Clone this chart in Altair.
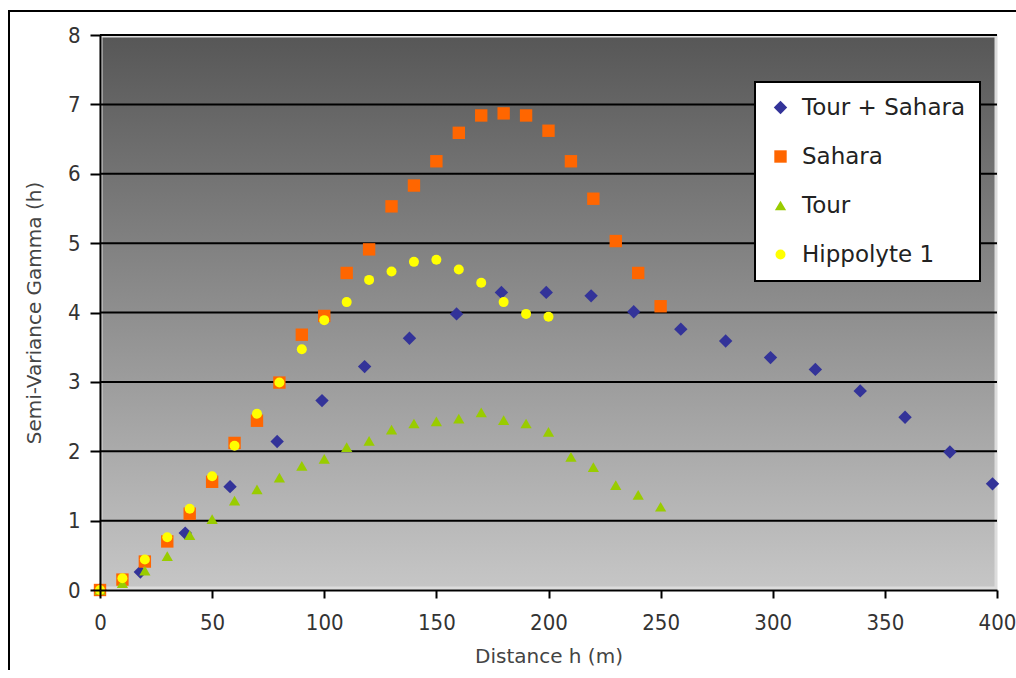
import altair as alt
import pandas as pd

# ---- data ----
series_names = ["Tour + Sahara", "Sahara", "Tour", "Hippolyte 1"]
series_colors = ["#333399", "#FF6600", "#99CC00", "#FFFF00"]
series_shapes = ["diamond", "square", "triangle-up", "circle"]

ts_x = [0, 18, 38, 58, 79, 99, 118, 138, 159, 179, 199, 219, 238, 259, 279, 299, 319, 339, 359, 379, 398]
ts_y = [0.0, 0.26, 0.82, 1.49, 2.14, 2.73, 3.22, 3.63, 3.98, 4.29, 4.29, 4.24, 4.01, 3.76, 3.59, 3.35,
        3.18, 2.87, 2.49, 1.99, 1.53]

sahara_x = [0, 10, 20, 30, 40, 50, 60, 70, 80, 90, 100, 110, 120, 130, 140, 150, 160, 170, 180, 190,
            200, 210, 220, 230, 240, 250]
sahara_y = [0.0, 0.15, 0.41, 0.70, 1.10, 1.56, 2.12, 2.44, 2.99, 3.68, 3.95, 4.57, 4.91, 5.53, 5.83,
            6.18, 6.59, 6.84, 6.87, 6.84, 6.62, 6.18, 5.64, 5.03, 4.57, 4.09]

tour_x = [0, 10, 20, 30, 40, 50, 60, 70, 80, 90, 100, 110, 120, 130, 140, 150, 160, 170, 180, 190,
          200, 210, 220, 230, 240, 250]
tour_y = [0.0, 0.10, 0.28, 0.49, 0.79, 1.02, 1.29, 1.45, 1.62, 1.79, 1.89, 2.06, 2.15, 2.31, 2.40,
          2.43, 2.47, 2.56, 2.45, 2.40, 2.28, 1.92, 1.77, 1.51, 1.37, 1.20]

hip_x = [0, 10, 20, 30, 40, 50, 60, 70, 80, 90, 100, 110, 120, 130, 140, 150, 160, 170, 180, 190, 200]
hip_y = [0.0, 0.17, 0.44, 0.76, 1.17, 1.64, 2.08, 2.54, 2.99, 3.47, 3.89, 4.15, 4.47, 4.59, 4.73,
         4.76, 4.62, 4.43, 4.15, 3.98, 3.94]

x_ticks = [0, 50, 100, 150, 200, 250, 300, 350, 400]
y_ticks = [0, 1, 2, 3, 4, 5, 6, 7, 8]
grid_lines = [1, 2, 3, 4, 5, 6, 7, 8]

rows = []
for i, (name, xs, ys) in enumerate(zip(series_names, [ts_x, sahara_x, tour_x, hip_x],
                                        [ts_y, sahara_y, tour_y, hip_y])):
    for xv, yv in zip(xs, ys):
        rows.append({"series": name, "h": xv, "gamma": yv, "ord": i})
df = pd.DataFrame(rows)

W, H = 897, 555
FONT = "DejaVu Sans Condensed, DejaVu Sans"

xscale = alt.Scale(domain=[0, 400], nice=False, zero=False)
yscale = alt.Scale(domain=[0, 8], nice=False)

xaxis = alt.Axis(values=x_ticks, title="Distance h (m)", grid=False, domainColor="black",
                 domainWidth=2, tickColor="black", tickWidth=2, tickSize=8,
                 labelFont=FONT, labelFontSize=22, labelColor="#333333", labelPadding=14,
                 labelFlush=False, titleFont="DejaVu Sans", titleFontSize=20,
                 titleFontWeight="normal", titleColor="#444444", titleX=W / 2, titleY=66,
                 titleBaseline="middle", titleAlign="center", zindex=1)
yaxis = alt.Axis(values=y_ticks, title="Semi-Variance Gamma (h)", grid=False, domainColor="black",
                 domainWidth=2, tickColor="black", tickWidth=2, tickSize=10,
                 labelFont=FONT, labelFontSize=22, labelColor="#333333", labelPadding=10,
                 titleFont="DejaVu Sans", titleFontSize=20, titleFontWeight="normal",
                 titleColor="#444444", titleX=-66, titleY=H / 2, titleAngle=-90,
                 titleBaseline="middle", titleAlign="center", zindex=1)

one = pd.DataFrame({"a": [0]})

# outer picture frame (only its left and top edges fall inside the picture)
frame_left = alt.Chart(one).mark_rule(color="black", strokeWidth=2).encode(
    x=alt.value(-91), y=alt.value(-25), y2=alt.value(H + 100))
frame_top = alt.Chart(one).mark_rule(color="black", strokeWidth=2).encode(
    x=alt.value(-92), x2=alt.value(W + 19), y=alt.value(-24))

bg = alt.Chart(one).mark_rect(
    color=alt.LinearGradient(
        gradient="linear", x1=0, y1=0, x2=0, y2=1,
        stops=[alt.GradientStop(color="#575757", offset=0),
               alt.GradientStop(color="#c6c6c6", offset=1)]),
    stroke="#dcdcdc", strokeWidth=3,
).encode(x=alt.value(1), x2=alt.value(W - 1), y=alt.value(1), y2=alt.value(H - 2))

grid = alt.Chart(pd.DataFrame({"gamma": grid_lines})).mark_rule(color="black", strokeWidth=2).encode(
    y=alt.Y("gamma:Q", scale=yscale, axis=yaxis))

legend = alt.Legend(title=None)
pts = alt.Chart(df).mark_point(filled=True, opacity=1, strokeWidth=0).encode(
    x=alt.X("h:Q", scale=xscale, axis=xaxis),
    y=alt.Y("gamma:Q", scale=yscale, axis=yaxis),
    color=alt.Color("series:N", scale=alt.Scale(domain=series_names, range=series_colors),
                    legend=legend),
    shape=alt.Shape("series:N", scale=alt.Scale(domain=series_names, range=series_shapes),
                    legend=legend),
    size=alt.Size("series:N", scale=alt.Scale(domain=series_names, range=[180, 100, 200, 140]),
                  legend=None),
    order=alt.Order("ord:Q"),
)

chart = alt.layer(frame_left, frame_top, bg, grid, pts).properties(
    width=W, height=H,
    padding={"left": 100, "top": 35, "right": 19, "bottom": 80},
    autosize=alt.AutoSizeParams(type="none"),
    background="white",
).configure_view(stroke="transparent").configure_legend(
    orient="none", legendX=655, legendY=47, padding=14, fillColor="white",
    strokeColor="black", strokeWidth=2, labelFont="DejaVu Sans", labelFontSize=23,
    labelColor="#222222", rowPadding=25, symbolSize=80, symbolStrokeWidth=0, labelOffset=10,
    labelLimit=400,
)

chart.save("out.html", embed_options={"renderer": "svg", "actions": False})
